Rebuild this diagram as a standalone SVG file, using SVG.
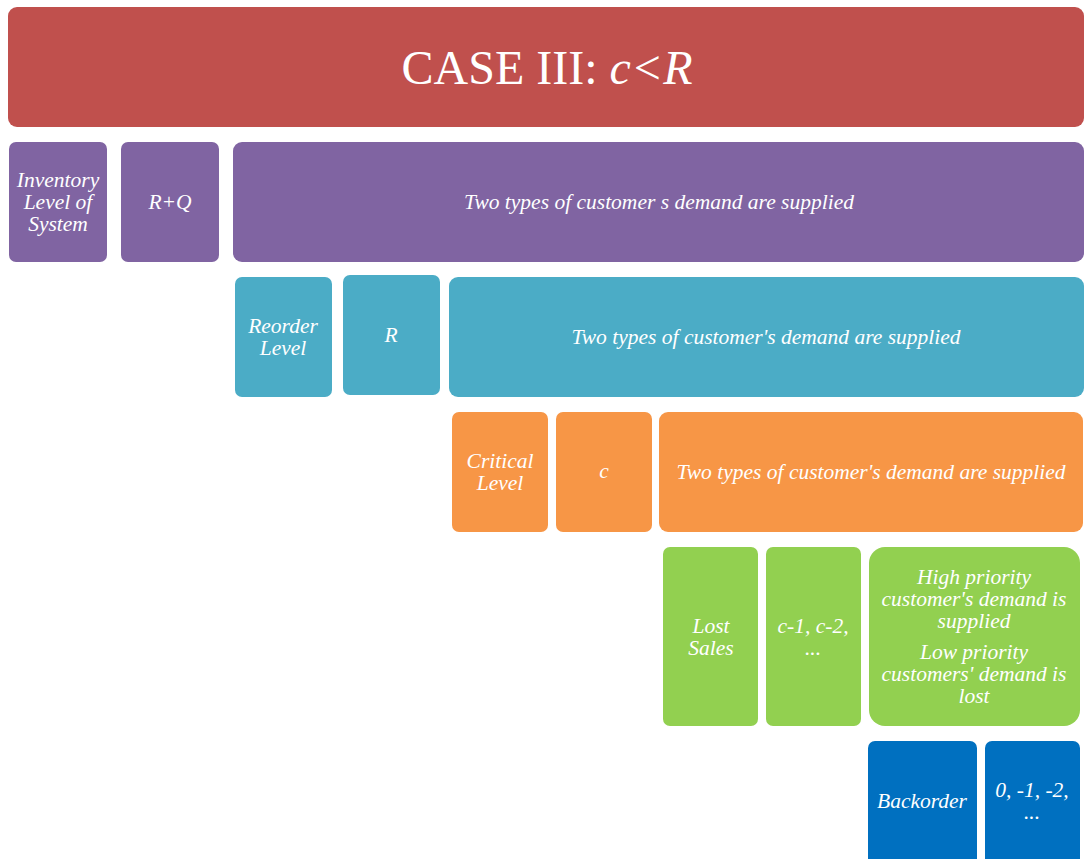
<svg xmlns="http://www.w3.org/2000/svg" width="1084" height="859" viewBox="0 0 1084 859">
  <style>
    .t { font-family: "Liberation Serif", "Times New Roman", serif; font-style: italic; fill: #ffffff; font-size: 21.5px; text-anchor: middle; }
    .title { font-family: "Liberation Serif", "Times New Roman", serif; fill: #ffffff; font-size: 48px; text-anchor: middle; }
    .red { fill: #c0504d; }
    .purple { fill: #8064a2; }
    .cyan { fill: #4bacc6; }
    .orange { fill: #f79646; }
    .green { fill: #92d050; }
    .blue { fill: #0070c0; }
  </style>
  <rect width="1084" height="859" fill="#ffffff"/>

  <g id="title">
    <rect class="red" x="8" y="7" width="1076" height="120" rx="9"/>
    <text class="title" x="547" y="84">CASE III: <tspan font-style="italic">c&lt;R</tspan></text>
  </g>

  <!-- system inventory row -->
  <g id="system-label">
    <rect class="purple" x="9" y="142" width="98" height="120" rx="7"/>
    <text class="t" x="58" y="187">Inventory</text>
    <text class="t" x="58" y="209">Level of</text>
    <text class="t" x="58" y="231">System</text>
  </g>
  <g id="system-value">
    <rect class="purple" x="121" y="142" width="98" height="120" rx="7"/>
    <text class="t" x="170" y="209">R+Q</text>
  </g>
  <g id="system-desc">
    <rect class="purple" x="233" y="142" width="851" height="120" rx="9"/>
    <text class="t" x="659" y="209">Two types of customer s demand are supplied</text>
  </g>

  <!-- reorder row -->
  <g id="reorder-label">
    <rect class="cyan" x="235" y="277" width="97" height="120" rx="7"/>
    <text class="t" x="283" y="333">Reorder</text>
    <text class="t" x="283" y="355">Level</text>
  </g>
  <g id="reorder-value">
    <rect class="cyan" x="343" y="275" width="97" height="120" rx="7"/>
    <text class="t" x="391" y="342">R</text>
  </g>
  <g id="reorder-desc">
    <rect class="cyan" x="449" y="277" width="635" height="120" rx="9"/>
    <text class="t" x="766" y="344">Two types of customer's demand are supplied</text>
  </g>

  <!-- critical row -->
  <g id="critical-label">
    <rect class="orange" x="452" y="412" width="96" height="120" rx="7"/>
    <text class="t" x="500" y="468">Critical</text>
    <text class="t" x="500" y="490">Level</text>
  </g>
  <g id="critical-value">
    <rect class="orange" x="556" y="412" width="96" height="120" rx="7"/>
    <text class="t" x="604" y="478">c</text>
  </g>
  <g id="critical-desc">
    <rect class="orange" x="659" y="412" width="424" height="120" rx="9"/>
    <text class="t" x="871" y="479">Two types of customer's demand are supplied</text>
  </g>

  <!-- lost sales row -->
  <g id="lost-label">
    <rect class="green" x="663" y="547" width="95" height="179" rx="7"/>
    <text class="t" x="711" y="633">Lost</text>
    <text class="t" x="711" y="655">Sales</text>
  </g>
  <g id="lost-value">
    <rect class="green" x="766" y="547" width="95" height="179" rx="7"/>
    <text class="t" x="813" y="633">c-1, c-2,</text>
    <text class="t" x="813" y="655">...</text>
  </g>
  <g id="lost-desc">
    <rect class="green" x="869" y="547" width="211" height="179" rx="16"/>
    <text class="t" x="974" y="584">High priority</text>
    <text class="t" x="974" y="606">customer's demand is</text>
    <text class="t" x="974" y="628">supplied</text>
    <text class="t" x="974" y="659">Low priority</text>
    <text class="t" x="974" y="681">customers' demand is</text>
    <text class="t" x="974" y="703">lost</text>
  </g>

  <!-- backorder row -->
  <g id="backorder-label">
    <rect class="blue" x="868" y="741" width="109" height="130" rx="7"/>
    <text class="t" x="922" y="808">Backorder</text>
  </g>
  <g id="backorder-value">
    <rect class="blue" x="985" y="741" width="95" height="130" rx="7"/>
    <text class="t" x="1032" y="797">0, -1, -2,</text>
    <text class="t" x="1032" y="819">...</text>
  </g>

  <g id="connectors"/>
</svg>
